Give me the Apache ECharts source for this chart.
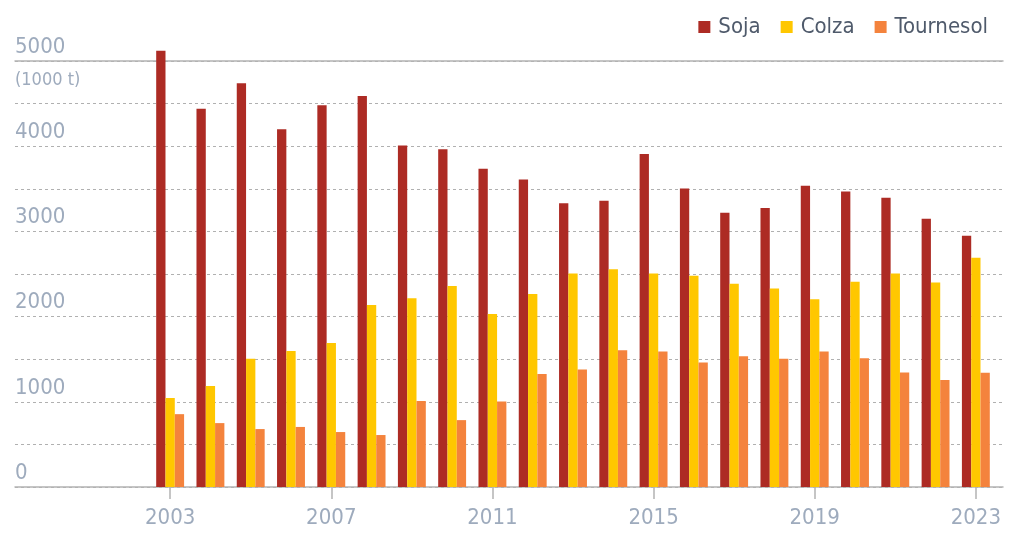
<!DOCTYPE html>
<html>
<head>
    <meta charset="UTF-8">
    <title>oleagineux</title>
    <script src="https://cdn.jsdelivr.net/npm/echarts@6/dist/echarts.min.js"></script>
    <style>
        *{margin:0;padding:0}
        html,body{width:100%;height:100%;background:#fff}
        #main{width:1024px;height:548px}
    </style>
</head>
<body>
<div id="main"></div>
<script type="text/javascript">
    // données (1000 t)
    var years = ['2003','2004','2005','2006','2007','2008','2009','2010','2011','2012','2013',
                 '2014','2015','2016','2017','2018','2019','2020','2021','2022','2023'];
    var soja = [5120,4440,4740,4200,4480,4590,4010,3965,3735,3610,3330,3360,3910,3505,3220,3275,3535,3470,3395,3150,2950];
    var colza = [1045,1185,1505,1595,1690,2135,2215,2360,2030,2265,2505,2555,2505,2480,2385,2330,2205,2410,2505,2400,2690];
    var tournesol = [855,750,680,705,645,610,1010,785,1005,1325,1380,1605,1590,1460,1535,1505,1590,1510,1345,1255,1340];

    var font = '"Liberation Sans Narrow","DejaVu Sans Condensed",sans-serif';
    var labelColor = '#9eabbd';
    var lineColor = '#b3b3b3';

    var myChart = echarts.init(document.getElementById('main'));
    var option = {
        animation: false,
        legend: {
            right: 31,
            top: 11,
            icon: 'rect',
            itemWidth: 12,
            itemHeight: 12,
            itemGap: 20,
            textStyle: {fontFamily: font, fontSize: 22, color: '#4f5a6b', padding: [0, 0, 0, 3]},
            data: ['Soja', 'Colza', 'Tournesol']
        },
        graphic: [{
            type: 'text',
            left: 15,
            top: 71,
            style: {text: '(1000 t)', font: '18px ' + font, fill: labelColor}
        }],
        grid: [
            {left: 15, right: 21, top: 61, bottom: 61},  // lignes de fond, toute la largeur
            {left: 150, right: 28, top: 44, bottom: 61}  // barres (5200 en haut, même échelle)
        ],
        xAxis: [
            {
                type: 'value', gridIndex: 0, min: 0, max: 1,
                axisLine: {show: true, lineStyle: {color: lineColor, width: 1.5}},
                axisTick: {show: false}, axisLabel: {show: false}, splitLine: {show: false}
            },
            {
                type: 'value', gridIndex: 0, position: 'top', min: 0, max: 1,
                axisLine: {show: true, lineStyle: {color: lineColor, width: 1.5}},
                axisTick: {show: false}, axisLabel: {show: false}, splitLine: {show: false}
            },
            {
                type: 'category', gridIndex: 1, data: years,
                axisLine: {show: false},
                axisTick: {show: true, interval: 3, alignWithLabel: true, length: 12,
                           lineStyle: {color: lineColor, width: 1.5}},
                axisLabel: {interval: 3, margin: 20, fontFamily: font, fontSize: 22, color: labelColor},
                splitLine: {show: false}
            }
        ],
        yAxis: [
            {
                type: 'value', gridIndex: 0, min: 0, max: 5000, interval: 500,
                axisLine: {show: false}, axisTick: {show: false},
                axisLabel: {
                    inside: true, margin: 0, align: 'left', verticalAlign: 'bottom',
                    padding: [0, 0, 3, 0],
                    fontFamily: font, fontSize: 22, color: labelColor,
                    formatter: function (v) { return v % 1000 === 0 ? v : ''; }
                },
                splitLine: {show: true, lineStyle: {color: '#b0b0b0', type: [3, 3], width: 1}}
            },
            {
                type: 'value', gridIndex: 1, min: 0, max: 5200,
                axisLine: {show: false}, axisTick: {show: false},
                axisLabel: {show: false}, splitLine: {show: false}
            }
        ],
        series: [
            {name: 'Soja', type: 'bar', xAxisIndex: 2, yAxisIndex: 1, data: soja,
             barWidth: 9.3, barGap: '0%', itemStyle: {color: '#ad2b24'}},
            {name: 'Colza', type: 'bar', xAxisIndex: 2, yAxisIndex: 1, data: colza,
             barWidth: 9.3, barGap: '0%', itemStyle: {color: '#ffc700'}},
            {name: 'Tournesol', type: 'bar', xAxisIndex: 2, yAxisIndex: 1, data: tournesol,
             barWidth: 9.3, barGap: '0%', itemStyle: {color: '#f4833d'}}
        ]
    };
    myChart.setOption(option);
</script>
</body>
</html>
